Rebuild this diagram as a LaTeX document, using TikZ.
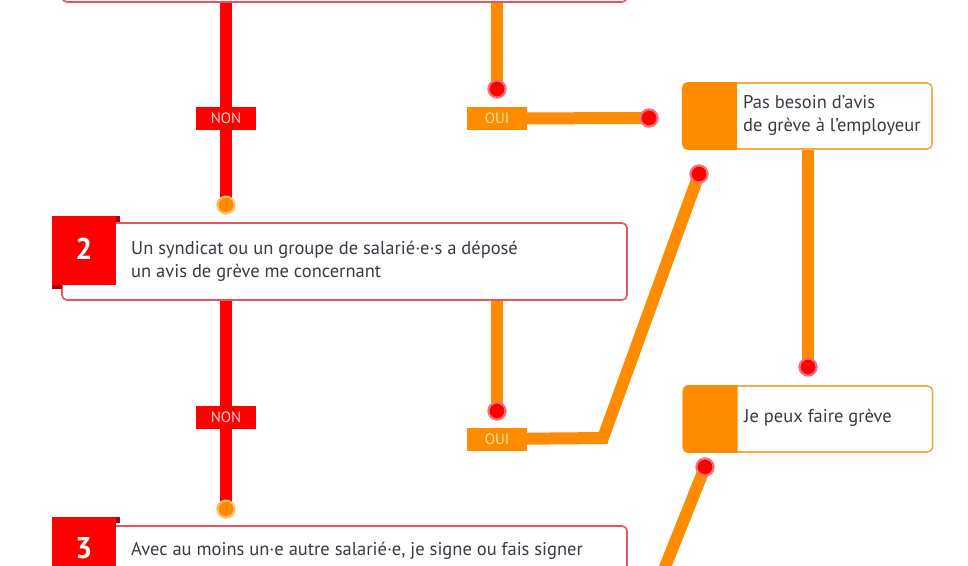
\documentclass[tikz,border=0pt]{standalone}
\usepackage{fontspec}
\setmainfont{PT Sans}
\usepackage{xcolor}
\usetikzlibrary{calc}
\definecolor{stepRed}{RGB}{255,0,0}
\definecolor{stepOrange}{RGB}{255,140,0}
\definecolor{boxRed}{RGB}{234,82,92}
\definecolor{boxOrange}{RGB}{247,170,75}
\definecolor{foldRed}{RGB}{175,0,25}
\definecolor{txtGray}{RGB}{58,58,68}
\definecolor{nonTxt}{RGB}{255,208,208}
\definecolor{ouiTxt}{RGB}{255,226,165}
\definecolor{dotPink}{RGB}{246,112,122}
\definecolor{dotPeach}{RGB}{255,192,105}

\begin{document}
\begin{tikzpicture}[x=1pt, y=-1pt,
    redline/.style={line width=12pt, stepRed},
    orline/.style={line width=12pt, stepOrange},
    qbox/.style={draw=boxRed, line width=1.6pt, rounded corners=5pt, fill=white,
        minimum width=565pt, minimum height=77pt, inner sep=0pt},
    abox/.style={draw=boxOrange, line width=1.6pt, rounded corners=5pt,
        minimum width=249pt, minimum height=66pt, inner sep=0pt},
    numsq/.style={fill=stepRed, minimum width=64pt, minimum height=69pt, inner sep=0pt},
    numtxt/.style={text=white, inner sep=0pt, font=\fontsize{30}{30}\selectfont\bfseries},
    qtext/.style={anchor=west, align=left, text=txtGray, inner sep=0pt,
        font=\fontsize{18.5}{23}\selectfont},
    nontag/.style={fill=stepRed, text=nonTxt, minimum width=60pt, minimum height=23pt,
        inner sep=0pt, font=\fontsize{15}{15}\selectfont},
    ouitag/.style={nontag, fill=stepOrange, text=ouiTxt},
    reddot/.style={circle, fill=stepRed, draw=dotPink, line width=2pt,
        minimum size=17pt, inner sep=0pt},
    orangedot/.style={reddot, fill=stepOrange, draw=dotPeach}]

    \useasboundingbox (0,0) rectangle (968,565);
    \clip (0,0) rectangle (968,565);

    % Question boxes (left column)
    \node[qbox] (q1) at (344.5,-36.5) {};
    \node[qbox] (q2) at (344.5,261.5) {};
    \node[qbox] (q3) at (344.5,564.5) {};

    % Answer boxes (right column)
    \node[abox] (pas) at (807.5,116) {};
    \node[abox] (peux) at (808,419) {};

    % Orange strips on the answer boxes
    \foreach \b in {pas,peux} {
        \begin{scope}
            \clip (\b.north west) rectangle ($(\b.south west)+(55,0)$);
            \fill[stepOrange, rounded corners=5pt] (\b.north west) rectangle (\b.south east);
        \end{scope}
    }

    % Dots and bends of the connectors
    \node[reddot] (d1) at (497,89) {};
    \node[reddot] (d2) at (649,118) {};
    \node[orangedot] (d3) at (226,205) {};
    \node[reddot] (d4) at (699,174) {};
    \node[reddot] (d5) at (808,367) {};
    \node[reddot] (d6) at (497,411) {};
    \node[orangedot] (d7) at (226,509) {};
    \node[reddot] (d8) at (705,467) {};
    \coordinate (bend) at (603,438);
    \coordinate (low) at (645,617);

    % Tags
    \node[nontag] (non1) at (226,118) {NON};
    \node[ouitag] (oui1) at (497,118.5) {OUI};
    \node[nontag] (non2) at (226,417.5) {NON};
    \node[ouitag] (oui2) at (497,439) {OUI};

    % Connectors
    \draw[redline] (q1.south -| d3) -- (d3.center);
    \draw[orline] (q1.south -| d1) -- (d1.center);
    \draw[orline] (oui1.center) -- (d2.center);
    \draw[redline] (q2.south -| d7) -- (d7.center);
    \draw[orline] (q2.south -| d6) -- (d6.center);
    \draw[orline] (oui2.center) -- (bend) -- (d4.center);
    \draw[orline] (pas.south -| d5) -- (d5.center);
    \draw[orline] (low) -- (d8.center);

    % Dots and tags again, on top of the lines
    \foreach \d in {d1,d2,d4,d5,d6,d8}
        \node[reddot] at (\d) {};
    \foreach \d in {d3,d7}
        \node[orangedot] at (\d) {};
    \node[nontag] at (non1) {NON};
    \node[ouitag] at (oui1) {OUI};
    \node[nontag] at (non2) {NON};
    \node[ouitag] at (oui2) {OUI};

    % Numbered squares with folds
    \node[numsq] (n2) at (84,250.5) {};
    \node[numsq] (n3) at (84,551.5) {};
    \foreach \n in {n2,n3} {
        \fill[foldRed] (\n.north east) rectangle ++(4,6);
        \fill[foldRed] (\n.south west) rectangle ++(10,4);
    }
    \node[numtxt] (num2) at (84,249) {2};
    \node[numtxt] (num3) at (84,548) {3};

    % Texts
    \node[qtext] (t2) at (131,261.5)
        {Un syndicat ou un groupe de salarié·e·s a déposé\\un avis de grève me concernant};
    \node[qtext] (t3) at (131,551)
        {Avec au moins un·e autre salarié·e, je signe ou fais signer};
    \node[qtext] (tpas) at (743,115) {Pas besoin d’avis\\de grève à l’employeur};
    \node[qtext] (tpeux) at (744,418) {Je peux faire grève};
\end{tikzpicture}
\end{document}
